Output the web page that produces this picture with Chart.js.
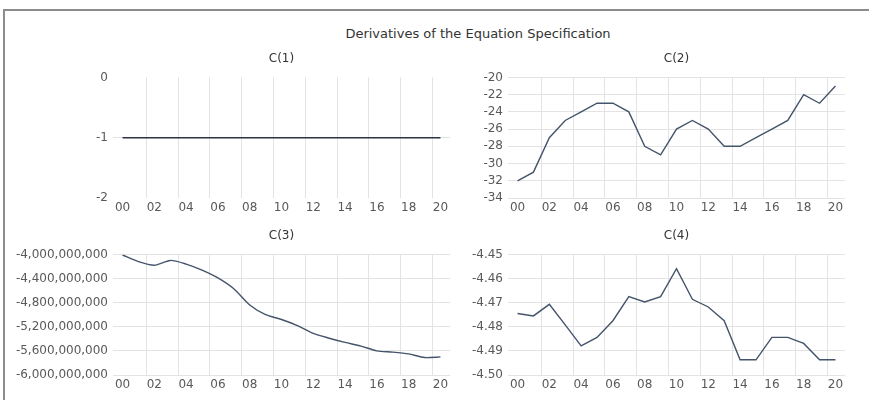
<!DOCTYPE html>
<html>
<head>
<meta charset="utf-8">
<script src="https://cdn.jsdelivr.net/npm/chart.js@4"></script>
<style>
  html, body { margin: 0; padding: 0; background: #ffffff; }
  #wrap { position: relative; width: 869px; height: 400px; overflow: hidden; background: #fff; }
  #frame { position: absolute; left: 3px; top: 9px; width: 1000px; height: 500px;
           border-left: 2px solid #8c8c8c; border-top: 2px solid #8c8c8c; }
  #mainTitle { position: absolute; left: 278px; width: 400px; top: 26px; text-align: center;
               font: 13px "DejaVu Sans", sans-serif; color: #333; white-space: nowrap; }
  canvas { position: absolute; }
</style>
</head>
<body>
<div id="wrap">
  <div id="frame"></div>
  <div id="mainTitle">Derivatives of the Equation Specification</div>
  <canvas id="c1" width="460" height="172" style="left:0px;top:44px"></canvas>
  <canvas id="c2" width="409" height="172" style="left:460px;top:44px"></canvas>
  <canvas id="c3" width="460" height="172" style="left:0px;top:221px"></canvas>
  <canvas id="c4" width="409" height="172" style="left:460px;top:221px"></canvas>
</div>
<script>
// ==========================================================
// Data
// ==========================================================

const years = ["00", "01", "02", "03", "04", "05", "06", "07", "08", "09", "10",
               "11", "12", "13", "14", "15", "16", "17", "18", "19", "20"];

const c1Values = [-1, -1, -1, -1, -1, -1, -1, -1, -1, -1, -1,
                  -1, -1, -1, -1, -1, -1, -1, -1, -1, -1];

const c2Values = [-32, -31, -27, -25, -24, -23, -23, -24, -28, -29, -26,
                  -25, -26, -28, -28, -27, -26, -25, -22, -23, -21];

const c3Values = [-4010000000, -4120000000, -4180000000, -4100000000, -4160000000,
                  -4260000000, -4390000000, -4570000000, -4840000000, -5000000000,
                  -5080000000, -5180000000, -5310000000, -5390000000, -5460000000,
                  -5520000000, -5600000000, -5620000000, -5650000000, -5710000000,
                  -5700000000];

const c4Values = [-4.4745, -4.4755, -4.4707, -4.4792, -4.4879, -4.4844, -4.4775,
                  -4.4675, -4.4697, -4.4675, -4.4559, -4.4686, -4.4718, -4.4775,
                  -4.4937, -4.4937, -4.4844, -4.4844, -4.4869, -4.4937, -4.4937];

const c1Ticks = [0, -1, -2];
const c2Ticks = [-20, -22, -24, -26, -28, -30, -32, -34];
const c3Ticks = [-4000000000, -4400000000, -4800000000, -5200000000, -5600000000, -6000000000];
const c4Ticks = [-4.45, -4.46, -4.47, -4.48, -4.49, -4.50];

// ==========================================================
// Helpers
// ==========================================================

const GRID = "#e3e3e3";
const LABEL = "#595959";
const FONT = "DejaVu Sans";

function makePanel(id, title, values, yTicks, opts) {

    const ctx = document.getElementById(id).getContext("2d");

    const sorted = [...yTicks].sort((a, b) => a - b);

    return new Chart(ctx, {

        type: "line",

        data: {
            datasets: [{
                data: values.map((v, i) => ({ x: i, y: v })),
                borderColor: opts.color,
                borderWidth: 1.4,
                pointRadius: 0,
                tension: opts.tension || 0,
                fill: false
            }]
        },

        options: {
            responsive: false,
            animation: false,
            devicePixelRatio: 1,
            layout: { padding: { left: 0, right: opts.padRight, top: 0, bottom: 0 } },
            plugins: {
                legend: { display: false },
                tooltip: { enabled: false },
                title: {
                    display: true,
                    text: title,
                    fullSize: false,
                    color: "#333333",
                    font: { family: FONT, size: 12, weight: "normal" },
                    padding: { top: 8, bottom: 11 }
                }
            },
            scales: {
                x: {
                    type: "linear",
                    min: -0.6,
                    max: 20.6,
                    afterBuildTicks(scale) {
                        // labels on even years, gridlines between the odd/even years
                        scale.ticks = years.map((y, i) => ({ value: i % 2 ? i + 0.5 : i }));
                    },
                    afterFit(scale) { scale.height = 18; },
                    ticks: {
                        autoSkip: false,
                        maxRotation: 0,
                        padding: 3,
                        color: LABEL,
                        font: { family: FONT, size: 12 },
                        callback: v => Number.isInteger(v) ? years[v] : ""
                    },
                    grid: {
                        drawTicks: false,
                        color: c => (c.tick && !Number.isInteger(c.tick.value)) ? GRID : "rgba(0,0,0,0)"
                    },
                    border: { display: false }
                },
                y: {
                    min: sorted[0],
                    max: sorted[sorted.length - 1],
                    afterBuildTicks(scale) {
                        scale.ticks = sorted.map(v => ({ value: v }));
                    },
                    afterFit(scale) { scale.width = opts.yWidth; },
                    ticks: {
                        autoSkip: false,
                        padding: 5,
                        color: LABEL,
                        font: { family: FONT, size: 12 },
                        callback: opts.format
                    },
                    grid: {
                        drawTicks: false,
                        color: opts.yGrid || GRID
                    },
                    border: { display: false }
                }
            }
        }
    });
}

// ==========================================================
// Panels
// ==========================================================

makePanel("c1", "C(1)", c1Values, c1Ticks, {
    color: "#2b3440",
    padRight: 10,
    yWidth: 113,
    format: v => String(v),
    yGrid: c => (c.tick && c.tick.value === -1) ? GRID : "rgba(0,0,0,0)"
});

makePanel("c2", "C(2)", c2Values, c2Ticks, {
    color: "#44546a",
    padRight: 24,
    yWidth: 48,
    format: v => String(v)
});

makePanel("c3", "C(3)", c3Values, c3Ticks, {
    color: "#44546a",
    padRight: 10,
    yWidth: 113,
    tension: 0.25,
    format: v => v.toLocaleString("en-US")
});

makePanel("c4", "C(4)", c4Values, c4Ticks, {
    color: "#44546a",
    padRight: 24,
    yWidth: 48,
    format: v => v.toFixed(2)
});
</script>
</body>
</html>
